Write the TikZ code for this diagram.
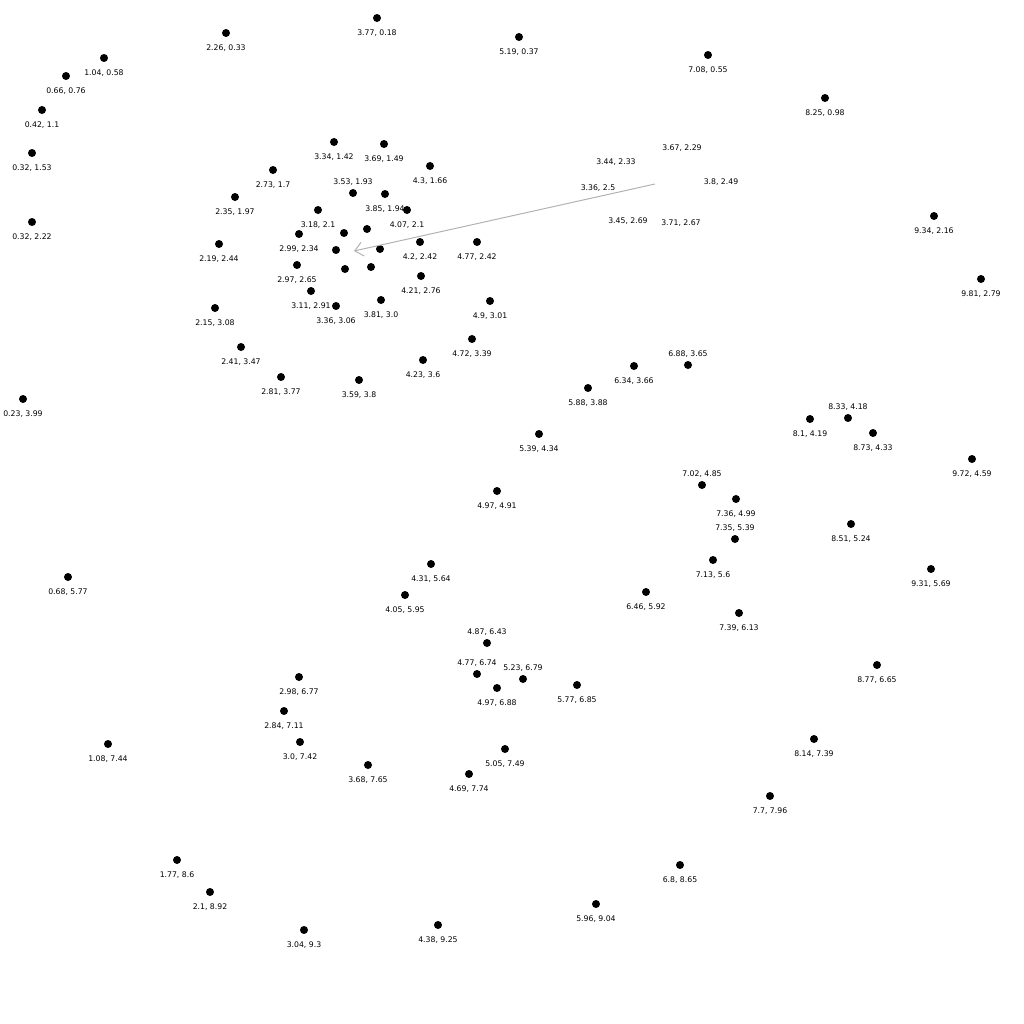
\documentclass[tikz,border=0pt]{standalone}
\usepackage{fontspec}
\newfontfamily\coordfont{DejaVu Sans}
\usepackage{tikz}
\usetikzlibrary{positioning, arrows.meta}

\begin{document}
\begin{tikzpicture}[x=2cm, y=-2cm,
    spot/.style = {circle, fill=black, inner sep=0pt, minimum size=1.6mm},
    lbl/.style = {font=\coordfont\fontsize{4.4}{5}\selectfont, inner sep=0pt},
    tagbelow/.style = {lbl, below=1.4mm of #1},
    tagabove/.style = {lbl, above=0.6mm of #1},
    zoomline/.style = {draw=black!30, line width=0.2mm, -{Straight Barb[length=1.6mm, width=2.8mm]}}]

    \useasboundingbox (0,0) rectangle (10.24,10.24);

    % top band
    \node[spot] (p1) at (3.77, 0.18) {}; \node[tagbelow=p1] (t1) {3.77, 0.18};
    \node[spot] (p2) at (2.26, 0.33) {}; \node[tagbelow=p2] (t2) {2.26, 0.33};
    \node[spot] (p3) at (5.19, 0.37) {}; \node[tagbelow=p3] (t3) {5.19, 0.37};
    \node[spot] (p4) at (7.08, 0.55) {}; \node[tagbelow=p4] (t4) {7.08, 0.55};
    \node[spot] (p5) at (1.04, 0.58) {}; \node[tagbelow=p5] (t5) {1.04, 0.58};
    \node[spot] (p6) at (0.66, 0.76) {}; \node[tagbelow=p6] (t6) {0.66, 0.76};
    \node[spot] (p7) at (8.25, 0.98) {}; \node[tagbelow=p7] (t7) {8.25, 0.98};
    \node[spot] (p8) at (0.42, 1.1) {}; \node[tagbelow=p8] (t8) {0.42, 1.1};
    \node[spot] (p9) at (3.34, 1.42) {}; \node[tagbelow=p9] (t9) {3.34, 1.42};
    \node[spot] (p10) at (3.84, 1.44) {}; \node[tagbelow=p10] (t10) {3.69, 1.49};
    \node[spot] (p11) at (0.32, 1.53) {}; \node[tagbelow=p11] (t11) {0.32, 1.53};
    \node[spot] (p12) at (4.3, 1.66) {}; \node[tagbelow=p12] (t12) {4.3, 1.66};
    \node[spot] (p13) at (2.73, 1.7) {}; \node[tagbelow=p13] (t13) {2.73, 1.7};
    \node[spot] (p14) at (3.53, 1.93) {}; \node[tagabove=p14] (t14) {3.53, 1.93};
    \node[spot] (p15) at (3.85, 1.94) {}; \node[tagbelow=p15] (t15) {3.85, 1.94};
    \node[spot] (p16) at (2.35, 1.97) {}; \node[tagbelow=p16] (t16) {2.35, 1.97};
    \node[spot] (p17) at (3.18, 2.1) {}; \node[tagbelow=p17] (t17) {3.18, 2.1};
    \node[spot] (p18) at (4.07, 2.1) {}; \node[tagbelow=p18] (t18) {4.07, 2.1};
    \node[spot] (p19) at (9.34, 2.16) {}; \node[tagbelow=p19] (t19) {9.34, 2.16};
    \node[spot] (p20) at (0.32, 2.22) {}; \node[tagbelow=p20] (t20) {0.32, 2.22};
    \node[spot] (p21) at (2.99, 2.34) {}; \node[tagbelow=p21] (t21) {2.99, 2.34};
    \node[spot] (p22) at (4.2, 2.42) {}; \node[tagbelow=p22] (t22) {4.2, 2.42};
    \node[spot] (p23) at (4.77, 2.42) {}; \node[tagbelow=p23] (t23) {4.77, 2.42};
    \node[spot] (p24) at (2.19, 2.44) {}; \node[tagbelow=p24] (t24) {2.19, 2.44};
    \node[spot] (p25) at (2.97, 2.65) {}; \node[tagbelow=p25] (t25) {2.97, 2.65};
    \node[spot] (p26) at (4.21, 2.76) {}; \node[tagbelow=p26] (t26) {4.21, 2.76};
    \node[spot] (p27) at (9.81, 2.79) {}; \node[tagbelow=p27] (t27) {9.81, 2.79};
    \node[spot] (p28) at (3.11, 2.91) {}; \node[tagbelow=p28] (t28) {3.11, 2.91};
    \node[spot] (p29) at (3.81, 3.0) {}; \node[tagbelow=p29] (t29) {3.81, 3.0};
    \node[spot] (p30) at (4.9, 3.01) {}; \node[tagbelow=p30] (t30) {4.9, 3.01};
    \node[spot] (p31) at (3.36, 3.06) {}; \node[tagbelow=p31] (t31) {3.36, 3.06};
    \node[spot] (p32) at (2.15, 3.08) {}; \node[tagbelow=p32] (t32) {2.15, 3.08};

    % middle band
    \node[spot] (p33) at (4.72, 3.39) {}; \node[tagbelow=p33] (t33) {4.72, 3.39};
    \node[spot] (p34) at (2.41, 3.47) {}; \node[tagbelow=p34] (t34) {2.41, 3.47};
    \node[spot] (p35) at (4.23, 3.6) {}; \node[tagbelow=p35] (t35) {4.23, 3.6};
    \node[spot] (p36) at (6.88, 3.65) {}; \node[tagabove=p36] (t36) {6.88, 3.65};
    \node[spot] (p37) at (6.34, 3.66) {}; \node[tagbelow=p37] (t37) {6.34, 3.66};
    \node[spot] (p38) at (2.81, 3.77) {}; \node[tagbelow=p38] (t38) {2.81, 3.77};
    \node[spot] (p39) at (3.59, 3.8) {}; \node[tagbelow=p39] (t39) {3.59, 3.8};
    \node[spot] (p40) at (5.88, 3.88) {}; \node[tagbelow=p40] (t40) {5.88, 3.88};
    \node[spot] (p41) at (0.23, 3.99) {}; \node[tagbelow=p41] (t41) {0.23, 3.99};
    \node[spot] (p42) at (8.48, 4.18) {}; \node[tagabove=p42] (t42) {8.33, 4.18};
    \node[spot] (p43) at (8.1, 4.19) {}; \node[tagbelow=p43] (t43) {8.1, 4.19};
    \node[spot] (p44) at (8.73, 4.33) {}; \node[tagbelow=p44] (t44) {8.73, 4.33};
    \node[spot] (p45) at (5.39, 4.34) {}; \node[tagbelow=p45] (t45) {5.39, 4.34};
    \node[spot] (p46) at (9.72, 4.59) {}; \node[tagbelow=p46] (t46) {9.72, 4.59};
    \node[spot] (p47) at (7.02, 4.85) {}; \node[tagabove=p47] (t47) {7.02, 4.85};
    \node[spot] (p48) at (4.97, 4.91) {}; \node[tagbelow=p48] (t48) {4.97, 4.91};
    \node[spot] (p49) at (7.36, 4.99) {}; \node[tagbelow=p49] (t49) {7.36, 4.99};
    \node[spot] (p50) at (8.51, 5.24) {}; \node[tagbelow=p50] (t50) {8.51, 5.24};
    \node[spot] (p51) at (7.35, 5.39) {}; \node[tagabove=p51] (t51) {7.35, 5.39};
    \node[spot] (p52) at (7.13, 5.6) {}; \node[tagbelow=p52] (t52) {7.13, 5.6};
    \node[spot] (p53) at (4.31, 5.64) {}; \node[tagbelow=p53] (t53) {4.31, 5.64};
    \node[spot] (p54) at (9.31, 5.69) {}; \node[tagbelow=p54] (t54) {9.31, 5.69};
    \node[spot] (p55) at (0.68, 5.77) {}; \node[tagbelow=p55] (t55) {0.68, 5.77};
    \node[spot] (p56) at (6.46, 5.92) {}; \node[tagbelow=p56] (t56) {6.46, 5.92};
    \node[spot] (p57) at (4.05, 5.95) {}; \node[tagbelow=p57] (t57) {4.05, 5.95};
    \node[spot] (p58) at (7.39, 6.13) {}; \node[tagbelow=p58] (t58) {7.39, 6.13};

    % bottom band
    \node[spot] (p59) at (4.87, 6.43) {}; \node[tagabove=p59] (t59) {4.87, 6.43};
    \node[spot] (p60) at (8.77, 6.65) {}; \node[tagbelow=p60] (t60) {8.77, 6.65};
    \node[spot] (p61) at (4.77, 6.74) {}; \node[tagabove=p61] (t61) {4.77, 6.74};
    \node[spot] (p62) at (2.99, 6.77) {}; \node[tagbelow=p62] (t62) {2.98, 6.77};
    \node[spot] (p63) at (5.23, 6.79) {}; \node[tagabove=p63] (t63) {5.23, 6.79};
    \node[spot] (p64) at (5.77, 6.85) {}; \node[tagbelow=p64] (t64) {5.77, 6.85};
    \node[spot] (p65) at (4.97, 6.88) {}; \node[tagbelow=p65] (t65) {4.97, 6.88};
    \node[spot] (p66) at (2.84, 7.11) {}; \node[tagbelow=p66] (t66) {2.84, 7.11};
    \node[spot] (p67) at (8.14, 7.39) {}; \node[tagbelow=p67] (t67) {8.14, 7.39};
    \node[spot] (p68) at (3.0, 7.42) {}; \node[tagbelow=p68] (t68) {3.0, 7.42};
    \node[spot] (p69) at (1.08, 7.44) {}; \node[tagbelow=p69] (t69) {1.08, 7.44};
    \node[spot] (p70) at (5.05, 7.49) {}; \node[tagbelow=p70] (t70) {5.05, 7.49};
    \node[spot] (p71) at (3.68, 7.65) {}; \node[tagbelow=p71] (t71) {3.68, 7.65};
    \node[spot] (p72) at (4.69, 7.74) {}; \node[tagbelow=p72] (t72) {4.69, 7.74};
    \node[spot] (p73) at (7.7, 7.96) {}; \node[tagbelow=p73] (t73) {7.7, 7.96};
    \node[spot] (p74) at (1.77, 8.6) {}; \node[tagbelow=p74] (t74) {1.77, 8.6};
    \node[spot] (p75) at (6.8, 8.65) {}; \node[tagbelow=p75] (t75) {6.8, 8.65};
    \node[spot] (p76) at (2.1, 8.92) {}; \node[tagbelow=p76] (t76) {2.1, 8.92};
    \node[spot] (p77) at (5.96, 9.04) {}; \node[tagbelow=p77] (t77) {5.96, 9.04};
    \node[spot] (p78) at (4.38, 9.25) {}; \node[tagbelow=p78] (t78) {4.38, 9.25};
    \node[spot] (p79) at (3.04, 9.3) {}; \node[tagbelow=p79] (t79) {3.04, 9.3};

    % dense cluster, its tags moved out to the right
    \node[spot] (c1) at (3.44, 2.33) {}; \node[lbl] (u1) at (6.16, 1.62) {3.44, 2.33};
    \node[spot] (c2) at (3.67, 2.29) {}; \node[lbl] (u2) at (6.82, 1.48) {3.67, 2.29};
    \node[spot] (c3) at (3.36, 2.5) {}; \node[lbl] (u3) at (5.98, 1.88) {3.36, 2.5};
    \node[spot] (c4) at (3.8, 2.49) {}; \node[lbl] (u4) at (7.21, 1.82) {3.8, 2.49};
    \node[spot] (c5) at (3.45, 2.69) {}; \node[lbl] (u5) at (6.28, 2.21) {3.45, 2.69};
    \node[spot] (c6) at (3.71, 2.67) {}; \node[lbl] (u6) at (6.81, 2.23) {3.71, 2.67};

    \coordinate (tagcentre) at (6.55, 1.84);
    \coordinate (clustercentre) at (3.54, 2.51);
    \draw[zoomline] (tagcentre) -- (clustercentre);
\end{tikzpicture}
\end{document}
